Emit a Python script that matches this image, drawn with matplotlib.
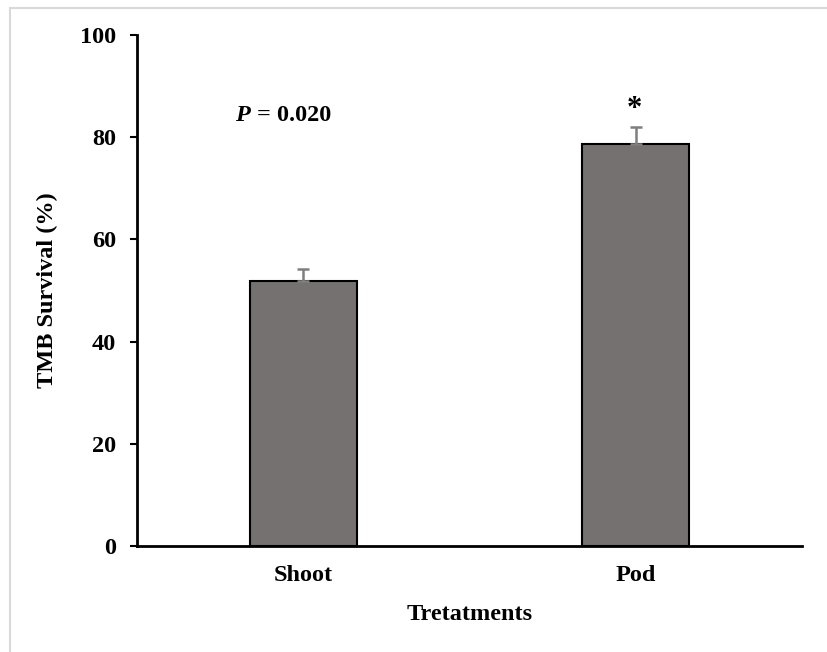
import numpy as np
import matplotlib.pyplot as plt
from matplotlib.patches import Rectangle

plt.rcParams['font.family'] = ['Liberation Serif', 'DejaVu Serif']
plt.rcParams['font.weight'] = 'bold'

treatments = ['Shoot', 'Pod']
survival = [51.9, 78.6]
errors = [2.3, 3.3]
y_ticks = [0, 20, 40, 60, 80, 100]

fig = plt.figure(figsize=(8.27, 6.52), dpi=100)
# light frame round the chart
fig.patches.append(Rectangle((10 / 827, -0.1), 1.2, (652 - 7.5) / 652 + 0.1,
                             transform=fig.transFigure, fill=False,
                             edgecolor='#d9d9d9', linewidth=1.5))

ax = fig.add_axes([137 / 827, 106 / 652, 665 / 827, 511 / 652])
x = np.arange(len(treatments))
ax.bar(x, survival, width=0.323, color='#767171', edgecolor='black', linewidth=1.5,
       yerr=[[0, 0], errors], ecolor='#7f7f7f',
       error_kw=dict(elinewidth=1.8, capsize=4, capthick=1.8))

ax.set_xlim(-0.5, 1.5)
ax.set_ylim(0, 100)
ax.set_yticks(y_ticks)
ax.set_xticks(x)
ax.set_xticklabels(treatments)
ax.tick_params(axis='y', labelsize=17.5, length=5, width=1.5, pad=10)
ax.tick_params(axis='x', labelsize=17.5, length=0, pad=14)
for side in ['top', 'right']:
    ax.spines[side].set_visible(False)
for side in ['left', 'bottom']:
    ax.spines[side].set_linewidth(2)

ax.set_xlabel('Tretatments', fontsize=17.5, fontweight='bold', labelpad=13)
ax.set_ylabel('TMB Survival (%)', fontsize=17.5, fontweight='bold', labelpad=16)

ax.text(-0.204, 84.3, 'P', fontsize=17.5, fontstyle='italic', fontweight='bold',
        va='center', ha='left')
ax.text(-0.140, 84.3, '= 0.020', fontsize=17.5, fontweight='bold',
        va='center', ha='left')
ax.text(0.995, 85.5, '*', fontsize=22, fontweight='bold', ha='center', va='center')

fig.savefig('out.png', dpi=100)
